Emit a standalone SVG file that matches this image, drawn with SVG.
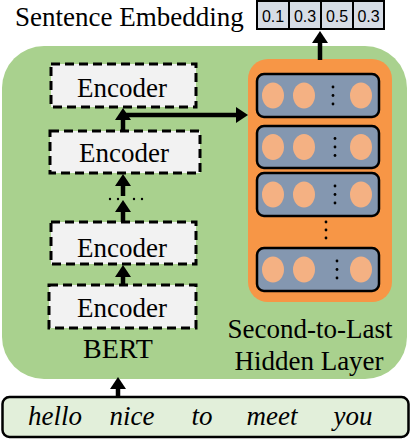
<svg xmlns="http://www.w3.org/2000/svg" width="412" height="440" viewBox="0 0 412 440">
<defs>
<style>
.serif{font-family:"Liberation Serif","Times New Roman",serif;fill:#000}
.enc{fill:#f2f2f2;stroke:#000;stroke-width:3;stroke-dasharray:9 5}
.enct{font-size:27px;text-anchor:middle}
.row{fill:#8497b0;stroke:#000;stroke-width:2.5}
.c{fill:#f4b183}
.cell{fill:#d6dce5;stroke:#000;stroke-width:2}
.num{font-family:"Liberation Sans",Arial,sans-serif;font-size:16px;text-anchor:middle;fill:#000}
.arr{stroke:#000;stroke-width:4.5;fill:none}
.word{font-size:27px;font-style:italic;text-anchor:middle}
</style>
<marker id="ah" viewBox="0 0 12 16" refX="0" refY="8" markerWidth="12" markerHeight="16" markerUnits="userSpaceOnUse" orient="auto">
<path d="M0,0 L12,8 L0,16 Z" fill="#000"/>
</marker>
</defs>
<g id="bert-bg">
<rect x="2" y="46" width="405" height="333" rx="42" fill="#a9d18e"/>
</g>
<g id="sentence-embedding">
<text class="serif" x="15" y="26" font-size="27">Sentence Embedding</text>
<rect class="cell" x="257" y="1" width="32" height="28"/>
<rect class="cell" x="289" y="1" width="32" height="28"/>
<rect class="cell" x="321" y="1" width="32" height="28"/>
<rect class="cell" x="353" y="1" width="31" height="28"/>
<text class="num" x="273" y="21.5">0.1</text>
<text class="num" x="305" y="21.5">0.3</text>
<text class="num" x="337" y="21.5">0.5</text>
<text class="num" x="368.5" y="21.5">0.3</text>
</g>
<g id="encoder1">
<rect class="enc" x="51" y="64" width="145" height="43"/>
<text class="serif enct" x="122" y="97">Encoder</text>
</g>
<g id="encoder2">
<rect class="enc" x="50" y="131" width="150" height="42"/>
<text class="serif enct" x="124" y="162">Encoder</text>
</g>
<g id="encoder3">
<rect class="enc" x="51" y="222" width="145" height="42"/>
<text class="serif enct" x="122" y="257">Encoder</text>
</g>
<g id="encoder4">
<rect class="enc" x="49" y="285" width="147" height="43"/>
<text class="serif enct" x="122" y="317">Encoder</text>
</g>
<g id="bert-label">
<text class="serif" x="118" y="358" font-size="28" text-anchor="middle">BERT</text>
</g>
<g id="hidden-layer">
<rect x="248" y="59" width="144" height="243" rx="20" fill="#f79646"/>
<rect class="row" x="257" y="74" width="122" height="43" rx="7"/>
<ellipse class="c" cx="273" cy="95.5" rx="11" ry="13"/>
<ellipse class="c" cx="304" cy="95.5" rx="11" ry="13"/>
<ellipse class="c" cx="361" cy="95.5" rx="11" ry="13"/>
<circle cx="333" cy="87" r="1.4"/><circle cx="333" cy="95.5" r="1.4"/><circle cx="333" cy="104" r="1.4"/>
<rect class="row" x="257" y="126" width="122" height="42" rx="7"/>
<ellipse class="c" cx="273" cy="147" rx="11" ry="13"/>
<ellipse class="c" cx="304" cy="147" rx="11" ry="13"/>
<ellipse class="c" cx="361" cy="147" rx="11" ry="13"/>
<circle cx="335" cy="138.5" r="1.4"/><circle cx="335" cy="147" r="1.4"/><circle cx="335" cy="155.5" r="1.4"/>
<rect class="row" x="257" y="173" width="122" height="43" rx="7"/>
<ellipse class="c" cx="273" cy="194.5" rx="11" ry="13"/>
<ellipse class="c" cx="304" cy="194.5" rx="11" ry="13"/>
<ellipse class="c" cx="361" cy="194.5" rx="11" ry="13"/>
<circle cx="335" cy="186" r="1.4"/><circle cx="335" cy="194.5" r="1.4"/><circle cx="335" cy="203" r="1.4"/>
<circle cx="326" cy="222" r="1.4"/><circle cx="326" cy="230" r="1.4"/><circle cx="326" cy="238" r="1.4"/>
<rect class="row" x="257" y="248" width="122" height="43" rx="7"/>
<ellipse class="c" cx="273" cy="269.5" rx="11" ry="13"/>
<ellipse class="c" cx="304" cy="269.5" rx="11" ry="13"/>
<ellipse class="c" cx="361" cy="269.5" rx="11" ry="13"/>
<circle cx="337" cy="261" r="1.4"/><circle cx="337" cy="269.5" r="1.4"/><circle cx="337" cy="278" r="1.4"/>
</g>
<g id="hidden-label">
<text class="serif" x="310" y="338" font-size="27" text-anchor="middle">Second-to-Last</text>
<text class="serif" x="309" y="370" font-size="27" text-anchor="middle">Hidden Layer</text>
</g>
<g id="input">
<rect x="2.5" y="397" width="406" height="40" rx="7" fill="#e2efda" stroke="#000" stroke-width="2.5"/>
<text class="serif word" x="55" y="425">hello</text>
<text class="serif word" x="132" y="425">nice</text>
<text class="serif word" x="202" y="425">to</text>
<text class="serif word" x="272" y="425">meet</text>
<text class="serif word" x="353" y="425">you</text>
</g>
<g id="connectors">
<line class="arr" x1="123" y1="131" x2="123" y2="120" marker-end="url(#ah)"/>
<line class="arr" x1="123" y1="196" x2="123" y2="186" marker-end="url(#ah)"/>
<line class="arr" x1="123" y1="222" x2="123" y2="212" marker-end="url(#ah)"/>
<line class="arr" x1="123" y1="285" x2="123" y2="277" marker-end="url(#ah)"/>
<line class="arr" x1="121" y1="115" x2="236" y2="115" marker-end="url(#ah)"/>
<line class="arr" x1="320" y1="60" x2="320" y2="43" marker-end="url(#ah)"/>
<line class="arr" x1="118" y1="397" x2="118" y2="389" marker-end="url(#ah)"/>
<g fill="#000">
<circle cx="110" cy="199" r="1.2"/><circle cx="118" cy="199" r="1.2"/><circle cx="134" cy="199" r="1.2"/><circle cx="142" cy="199" r="1.2"/>
</g>
</g>
</svg>
